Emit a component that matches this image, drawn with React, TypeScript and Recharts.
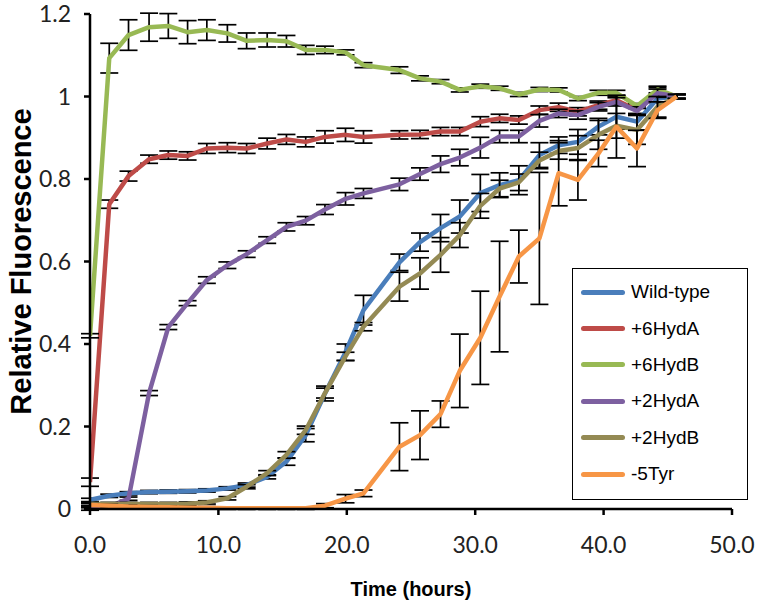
import React from "react";
import { LineChart, Line, XAxis, YAxis, ErrorBar } from "recharts";

// sampling times (hours)
const times = [0, 1.5, 3.0, 4.6, 6.1, 7.6, 9.1, 10.7, 12.2, 13.8, 15.3, 16.8, 18.3, 19.9, 21.3, 24.1, 25.7, 27.3, 28.8, 30.4, 31.9, 33.4, 35.0, 36.5, 38.0, 39.6, 41.0, 42.6, 44.2, 45.7];

const wildType = [0.022, 0.032, 0.038, 0.041, 0.042, 0.043, 0.045, 0.05, 0.058, 0.078, 0.115, 0.179, 0.28, 0.38, 0.482, 0.598, 0.647, 0.681, 0.709, 0.766, 0.785, 0.797, 0.858, 0.882, 0.89, 0.927, 0.951, 0.939, 0.995, 1.0];
const wildTypeErr = [0.004, 0.004, 0.004, 0.004, 0.004, 0.004, 0.004, 0.004, 0.005, 0.005, 0.009, 0.016, 0.018, 0.02, 0.036, 0.02, 0.022, 0.033, 0.04, 0.045, 0.03, 0.035, 0.03, 0.02, 0.03, 0.02, 0.03, 0.02, 0.01, 0.005];

const hydA6 = [0.065, 0.739, 0.807, 0.848, 0.858, 0.856, 0.874, 0.876, 0.874, 0.886, 0.896, 0.89, 0.902, 0.907, 0.902, 0.907, 0.908, 0.915, 0.915, 0.939, 0.947, 0.943, 0.967, 0.974, 0.963, 0.979, 0.991, 0.967, 1.012, 1.0];
const hydA6Err = [0.01, 0.01, 0.012, 0.01, 0.01, 0.01, 0.012, 0.012, 0.012, 0.013, 0.012, 0.012, 0.015, 0.016, 0.015, 0.01, 0.01, 0.01, 0.01, 0.012, 0.01, 0.01, 0.01, 0.01, 0.01, 0.01, 0.01, 0.01, 0.01, 0.005];

const hydB6 = [0.42, 1.093, 1.149, 1.168, 1.171, 1.156, 1.161, 1.153, 1.135, 1.137, 1.134, 1.113, 1.113, 1.107, 1.076, 1.064, 1.044, 1.036, 1.016, 1.025, 1.02, 1.005, 1.017, 1.016, 0.995, 1.009, 1.009, 0.977, 1.017, 1.0];
const hydB6Err = [0.005, 0.036, 0.037, 0.034, 0.03, 0.028, 0.025, 0.021, 0.019, 0.017, 0.014, 0.011, 0.009, 0.006, 0.006, 0.008, 0.006, 0.005, 0.005, 0.005, 0.005, 0.005, 0.005, 0.005, 0.005, 0.006, 0.006, 0.006, 0.008, 0.005];

const hydA2 = [0.0, 0.005, 0.025, 0.281, 0.441, 0.499, 0.555, 0.591, 0.618, 0.652, 0.684, 0.699, 0.726, 0.752, 0.765, 0.787, 0.812, 0.836, 0.852, 0.876, 0.903, 0.903, 0.941, 0.959, 0.955, 0.975, 0.987, 0.965, 1.008, 1.0];
const hydA2Err = [0.003, 0.003, 0.004, 0.006, 0.006, 0.006, 0.008, 0.008, 0.008, 0.008, 0.01, 0.01, 0.012, 0.015, 0.012, 0.015, 0.015, 0.02, 0.02, 0.025, 0.015, 0.015, 0.015, 0.01, 0.01, 0.01, 0.01, 0.01, 0.01, 0.005];

const hydB2 = [0.012, 0.012, 0.012, 0.012, 0.012, 0.013, 0.016, 0.026, 0.054, 0.087, 0.131, 0.191, 0.281, 0.37, 0.442, 0.539, 0.571, 0.616, 0.664, 0.735, 0.777, 0.792, 0.845, 0.868, 0.875, 0.907, 0.929, 0.919, 0.975, 1.0];
const hydB2Err = [0.004, 0.004, 0.004, 0.004, 0.004, 0.004, 0.004, 0.004, 0.005, 0.006, 0.008, 0.01, 0.012, 0.01, 0.01, 0.035, 0.038, 0.042, 0.03, 0.03, 0.02, 0.02, 0.02, 0.02, 0.03, 0.035, 0.03, 0.035, 0.025, 0.005];

const tyr5 = [0.01, 0.008, 0.006, 0.005, 0.004, 0.003, 0.003, 0.002, 0.002, 0.002, 0.002, 0.002, 0.008, 0.025, 0.038, 0.151, 0.179, 0.23, 0.335, 0.415, 0.515, 0.612, 0.656, 0.814, 0.798, 0.862, 0.927, 0.874, 0.967, 1.0];
const tyr5Err = [0.003, 0.003, 0.003, 0.003, 0.003, 0.003, 0.003, 0.003, 0.003, 0.003, 0.003, 0.003, 0.005, 0.01, 0.008, 0.058, 0.059, 0.032, 0.089, 0.113, 0.134, 0.064, 0.16, 0.079, 0.049, 0.032, 0.076, 0.044, 0.02, 0.005];

const xTicks = [0, 10, 20, 30, 40, 50];
const yTicks = [0, 0.2, 0.4, 0.6, 0.8, 1, 1.2];

const series = [
  { key: "wt", name: "Wild-type", values: wildType, errors: wildTypeErr, color: "#4A7EBB" },
  { key: "a6", name: "+6HydA", values: hydA6, errors: hydA6Err, color: "#BE4B48" },
  { key: "b6", name: "+6HydB", values: hydB6, errors: hydB6Err, color: "#98B954" },
  { key: "a2", name: "+2HydA", values: hydA2, errors: hydA2Err, color: "#7D60A0" },
  { key: "b2", name: "+2HydB", values: hydB2, errors: hydB2Err, color: "#948A54" },
  { key: "t5", name: "-5Tyr", values: tyr5, errors: tyr5Err, color: "#F79646" },
];

const data = times.map((t, i) => {
  const row: Record<string, number> = { t };
  series.forEach((s) => {
    row[s.key] = s.values[i];
    row[s.key + "Err"] = s.errors[i];
  });
  return row;
});

const tickFont = { fontFamily: "Lato, sans-serif", fontSize: 23, fill: "#222" };

const YTitle = (props: any) => {
  const vb = props.viewBox;
  const cx = vb.x + 21;
  const cy = vb.y + vb.height / 2;
  return (
    <text x={cx} y={cy} transform={`rotate(-90, ${cx}, ${cy})`} textAnchor="middle" dominantBaseline="central"
      style={{ fontFamily: "'Liberation Sans', Arial, sans-serif", fontWeight: "bold", fontSize: 29, fill: "#000" }}>
      Relative Fluorescence
    </text>
  );
};

const XTitle = (props: any) => {
  const vb = props.viewBox;
  return (
    <text x={vb.x + vb.width / 2} y={vb.y + 87} textAnchor="middle"
      style={{ fontFamily: "'Liberation Sans', Arial, sans-serif", fontWeight: "bold", fontSize: 20, fill: "#000" }}>
      Time (hours)
    </text>
  );
};

function ChartLegend() {
  return (
    <div style={{ position: "absolute", left: 572, top: 268, width: 176, height: 232, border: "1px solid #000", background: "#fff", boxSizing: "border-box", paddingTop: 5 }}>
      {series.map((s) => (
        <div key={s.key} style={{ display: "flex", alignItems: "center", height: 36.4, paddingLeft: 8 }}>
          <div style={{ width: 44, height: 5, borderRadius: 3, background: s.color, marginRight: 6 }} />
          <span style={{ fontFamily: "'Liberation Sans', Arial, sans-serif", fontSize: 19, color: "#000" }}>{s.name}</span>
        </div>
      ))}
    </div>
  );
}

export default function App() {
  return (
    <div style={{ position: "absolute", left: 0, top: 0, width: 760, height: 607, background: "#fff" }}>
      <LineChart width={760} height={607} data={data} margin={{ top: 14, right: 28, bottom: 0, left: 0 }}>
        <XAxis
          dataKey="t"
          type="number"
          domain={[0, 50]}
          ticks={xTicks}
          allowDataOverflow
          height={98}
          tickSize={6}
          tickMargin={22}
          axisLine={{ stroke: "#000", strokeWidth: 2.5 }}
          tickLine={{ stroke: "#000", strokeWidth: 2.5 }}
          tick={tickFont}
          tickFormatter={(v: number) => v.toFixed(1)}
          label={{ content: XTitle }}
        />
        <YAxis
          type="number"
          domain={[0, 1.2]}
          ticks={yTicks}
          allowDataOverflow
          width={90}
          tickSize={6}
          tickMargin={13}
          axisLine={{ stroke: "#000", strokeWidth: 2.5 }}
          tickLine={{ stroke: "#000", strokeWidth: 2.5 }}
          tick={tickFont}
          tickFormatter={(v: number) => (v === 0 ? "0" : v === 1 ? "1" : v.toFixed(1))}
          label={{ content: YTitle }}
        />
        {series.map((s) => (
          <Line
            key={s.key}
            type="linear"
            dataKey={s.key}
            name={s.name}
            stroke={s.color}
            strokeWidth={4.5}
            strokeLinejoin="round"
            dot={false}
            activeDot={false}
            isAnimationActive={false}
          >
            <ErrorBar dataKey={s.key + "Err"} direction="y" width={9} stroke="#000" strokeWidth={1.7} isAnimationActive={false} />
          </Line>
        ))}
      </LineChart>
      <ChartLegend />
    </div>
  );
}
